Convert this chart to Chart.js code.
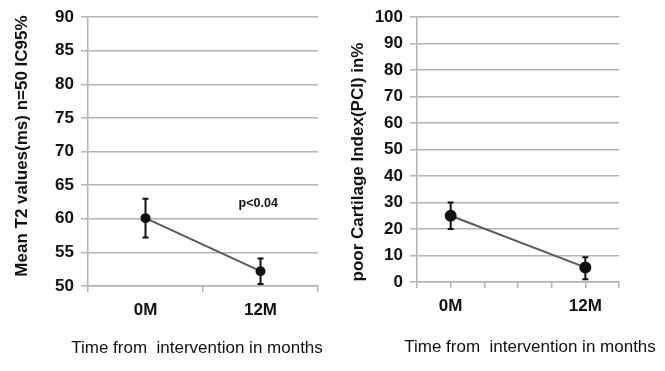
<!DOCTYPE html>
<html>
<head>
<meta charset="utf-8">
<script src="https://cdn.jsdelivr.net/npm/chart.js@4/dist/chart.umd.min.js"></script>
<style>
    body { margin: 0; background: #fff; }
    #wrap { position: relative; width: 665px; height: 371px; }
    #t2Box { position: absolute; left: 0; top: 0; width: 333px; height: 371px; }
    #pciBox { position: absolute; left: 333px; top: 0; width: 332px; height: 371px; }
</style>
</head>
<body>
<div id="wrap">
    <div id="t2Box"><canvas id="t2Chart"></canvas></div>
    <div id="pciBox"><canvas id="pciChart"></canvas></div>
</div>
<script>
// 左图: T2 均值
const t2Labels = ['0M', '12M'];
const t2Mean = [60.1, 52.2];
const t2Low = [57.2, 50.3];
const t2High = [63.0, 54.1];
const t2Ticks = [50, 55, 60, 65, 70, 75, 80, 85, 90];

// 右图: PCI，x 轴带空位
const pciLabels = ['', '0M', '', '', '', '12M', ''];
const pciMean = [null, 25, null, null, null, 5.5, null];
const pciLow = [null, 20, null, null, null, 1, null];
const pciHigh = [null, 30, null, null, null, 9.3, null];
const pciTicks = [0, 10, 20, 30, 40, 50, 60, 70, 80, 90, 100];

const xTitleText = 'Time from  intervention in months';

const FONT = 'Liberation Sans, Arial, sans-serif';
const GRID = '#b3b3b3';

// 误差线 + 标注 + 轴标题
const errorBars = {
    id: 'errorBars',
    afterDatasetsDraw(chart, args, opts) {
        const {ctx, scales: {x, y}} = chart;
        ctx.save();
        ctx.strokeStyle = '#111';
        ctx.lineWidth = 2;
        opts.low.forEach((lo, i) => {
            if (lo === null) return;
            const px = x.getPixelForValue(i);
            const y1 = y.getPixelForValue(lo);
            const y2 = y.getPixelForValue(opts.high[i]);
            ctx.beginPath();
            ctx.moveTo(px, y1); ctx.lineTo(px, y2);
            ctx.moveTo(px - 3, y1); ctx.lineTo(px + 3, y1);
            ctx.moveTo(px - 3, y2); ctx.lineTo(px + 3, y2);
            ctx.stroke();
        });
        ctx.fillStyle = '#111';
        ctx.textAlign = 'center';
        ctx.textBaseline = 'middle';
        if (opts.note) {
            ctx.font = 'bold 12.5px ' + FONT;
            ctx.fillText(opts.note.text, x.getPixelForValue(opts.note.x), y.getPixelForValue(opts.note.y));
        }
        const t = opts.titles;
        ctx.font = '17px ' + FONT;
        ctx.fillText(xTitleText, t.xt[0], t.xt[1]);
        ctx.translate(t.yt[0], t.yt[1]);
        ctx.rotate(-Math.PI / 2);
        ctx.font = 'bold 17px ' + FONT;
        ctx.fillText(t.ytext, 0, 0);
        ctx.restore();
    }
};

const makeChart = (id, cfg) => {
    new Chart(document.getElementById(id).getContext('2d'), {
        type: 'line',
        data: {
            labels: cfg.labels,
            datasets: [{
                data: cfg.mean,
                borderColor: '#5a5a5a',
                borderWidth: 2,
                pointRadius: cfg.r,
                pointBackgroundColor: '#111',
                pointBorderColor: '#111',
                spanGaps: true,
                tension: 0
            }]
        },
        options: {
            responsive: true,
            maintainAspectRatio: false,
            animation: false,
            layout: {padding: cfg.pad},
            plugins: {
                legend: {display: false},
                tooltip: {enabled: false},
                errorBars: {low: cfg.low, high: cfg.high, note: cfg.note, titles: cfg.titles}
            },
            scales: {
                x: {
                    offset: cfg.offset,
                    grid: {offset: cfg.offset, drawOnChartArea: false, color: GRID, tickLength: 6, lineWidth: 1.5},
                    border: {color: GRID, width: 1.5},
                    ticks: {autoSkip: false, maxRotation: 0, color: '#111', padding: 8, font: {family: FONT, size: 17, weight: 'bold'}},
                    afterFit: s => { s.height = cfg.xh; }
                },
                y: {
                    min: cfg.ticks[0],
                    max: cfg.ticks[cfg.ticks.length - 1],
                    afterBuildTicks: s => { s.ticks = cfg.ticks.map(v => ({value: v})); },
                    grid: {color: GRID, tickLength: 7, lineWidth: 1.5},
                    border: {color: GRID, width: 1.5},
                    ticks: {color: '#111', padding: cfg.tp, font: {family: FONT, size: 17, weight: 'bold'}},
                    afterFit: s => { s.width = cfg.yw; }
                }
            }
        },
        plugins: [errorBars]
    });
};

makeChart('t2Chart', {
    labels: t2Labels, mean: t2Mean, low: t2Low, high: t2High, ticks: t2Ticks,
    r: 4, offset: true, pad: {left: 0, top: 15, right: 15, bottom: 0},
    xh: 85, yw: 88, tp: 7,
    titles: {xt: [197, 348], yt: [22, 146], ytext: 'Mean T2 values(ms) n=50 IC95%'},
    note: {text: 'p<0.04', x: 0.98, y: 62.2}
});

makeChart('pciChart', {
    labels: pciLabels, mean: pciMean, low: pciLow, high: pciHigh, ticks: pciTicks,
    r: 5, offset: false, pad: {left: 0, top: 16, right: 46, bottom: 0},
    xh: 89, yw: 84, tp: 7,
    titles: {xt: [197, 347], yt: [25, 162], ytext: 'poor Cartilage Index(PCI) in%'},
    note: null
});
</script>
</body>
</html>
